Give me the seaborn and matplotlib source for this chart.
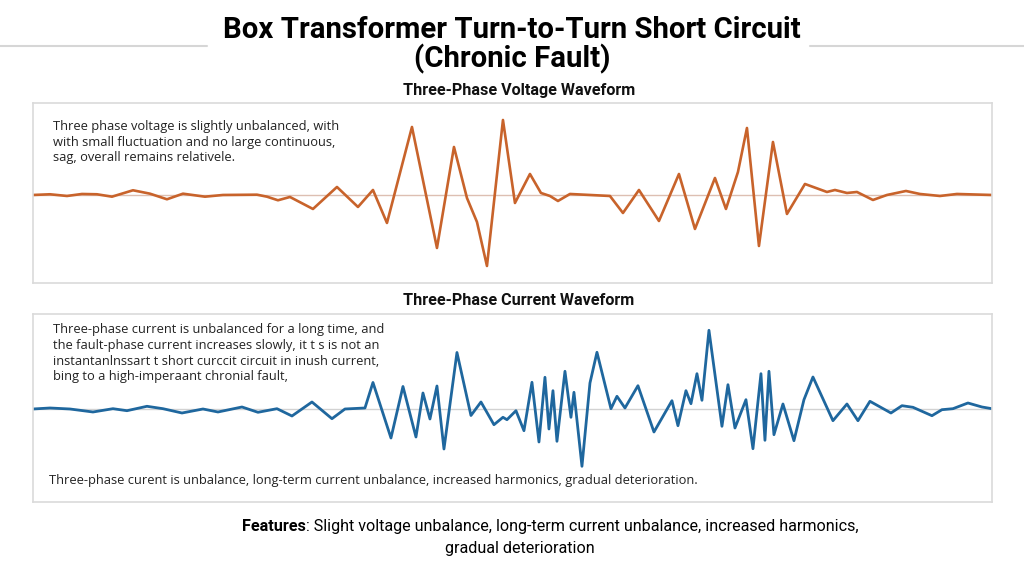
import matplotlib
matplotlib.use("Agg")
import matplotlib.pyplot as plt
from matplotlib.lines import Line2D
import seaborn as sns

# -----------------------------
# Data (time in samples, amplitude in arbitrary units)
# -----------------------------
volt_t = [0, 17, 34, 49, 64, 79, 100, 117, 134, 150, 172, 190, 224, 234, 245, 257,
          280, 304, 325, 340, 354, 379, 404, 421, 434, 444, 454, 470, 482, 497, 508,
          517, 525, 537, 577, 590, 606, 626, 646, 662, 682, 693, 705, 714, 726, 740,
          754, 772, 794, 802, 814, 824, 840, 854, 873, 887, 907, 924, 959]
volt_v = [0, 0.7, -1, 1, 0.7, -1.7, 4.7, 1.3, -4.3, 1.3, -1.7, 0, 0.3, -1.7, -5.3, -2,
          -14, 8, -12, 5, -28, 68, -53, 48, -3, -27, -71, 75, -8, 21, 2,
          -1, -6, 1, -1, -18, 5, -26, 21, -34, 17, -14, 23, 67, -51, 53,
          -19, 11, 3, 5, 2, 3, -5, 0, 4, 1, -1, 1, 0]

curr_t = [0, 17, 37, 60, 80, 94, 114, 130, 149, 170, 185, 209, 225, 244, 259, 279,
          299, 312, 332, 340, 358, 370, 383, 390, 397, 404, 411, 424, 438, 448, 461,
          470, 474, 483, 491, 499, 506, 512, 516, 520, 524, 532, 538, 541, 549, 557,
          564, 578, 584, 592, 605, 621, 639, 645, 653, 658, 664, 669, 676, 689, 695,
          702, 713, 720, 728, 732, 736, 741, 750, 761, 771, 780, 800, 814, 825, 837,
          858, 869, 880, 899, 909, 920, 935, 949, 959]
curr_v = [0, 1, 0, -3, 0.3, -1.7, 2.7, 0.3, -4, 0, -3, 2, -3.3, 0.3, -7, 7,
          -9.7, 0, 1, 26.5, -29, 22.5, -28, 16, -10, 23, -40, 56.5, -6.5, 7, -15.7,
          -8.3, -10.7, -1.7, -21.7, 26.7, -33, 31.7, -20, 18.3, -32.3, 37.7, -8.3, 16.7, -57.3, 26,
          56.7, 0.3, 12.7, 1, 23.3, -23, 8.3, -16.7, 18.3, 5.3, 35.3, 8.7, 78.7, -17.3, 24.3,
          -19, 9.3, -39.7, 35.3, -31.3, 37.7, -25.7, 5, -31.7, 9.3, 32, -11.7, 5, -11.7, 7.7,
          -4, 3.3, 1.7, -6.7, -0.7, 0.3, 6, 2, 0.3]

volt_note = ["Three phase voltage is slightly unbalanced, with",
             "with small fluctuation and no large continuous,",
             "sag, overall remains relativele."]
curr_note = ["Three-phase current is unbalanced for a long time, and",
             "the fault-phase current increases slowly, it t s is not an",
             "instantanlnssart t short curccit circuit in inush current,",
             "bing to a high-imperaant chronial fault,"]
curr_bottom = ("Three-phase curent is unbalance, long-term current unbalance, "
               "increased harmonics, gradual deterioration.")

# -----------------------------
# Style
# -----------------------------
sns.set_theme(style="white")
plt.rcParams["font.family"] = ["Open Sans", "DejaVu Sans"]
narrow = ["Roboto", "DejaVu Sans"]

VOLT_COLOR = "#C8632B"
CURR_COLOR = "#1F679E"
EDGE = "#DADADA"

fig = plt.figure(figsize=(10.24, 5.68), dpi=100)
ax_v = fig.add_axes([0.0322, 0.5018, 0.9365, 0.3169])
ax_c = fig.add_axes([0.0322, 0.1162, 0.9365, 0.3310])

sns.lineplot(x=volt_t, y=volt_v, ax=ax_v, color=VOLT_COLOR, linewidth=1.9, sort=False,
             solid_joinstyle="round", solid_capstyle="round")
ax_v.axhline(0, color="#DDBFB2", linewidth=1, zorder=0)
ax_v.set_xlim(0, 959)
ax_v.set_ylim(-88, 92)

sns.lineplot(x=curr_t, y=curr_v, ax=ax_c, color=CURR_COLOR, linewidth=2.0, sort=False,
             solid_joinstyle="round", solid_capstyle="round")
ax_c.axhline(0, color="#D2D2D2", linewidth=1, zorder=0)
ax_c.set_xlim(0, 959)
ax_c.set_ylim(-93, 95)

for ax in (ax_v, ax_c):
    ax.set_xticks([])
    ax.set_yticks([])
    ax.set_xlabel("")
    ax.set_ylabel("")
    for s in ax.spines.values():
        s.set_color(EDGE)
        s.set_linewidth(1.2)

# notes inside the panels
for i, line in enumerate(volt_note):
    ax_v.text(0.0209, 0.867 - i * 0.086, line, transform=ax_v.transAxes,
              fontsize=9.3, color="#222222", va="center", ha="left")
for i, line in enumerate(curr_note):
    ax_c.text(0.0209, 0.915 - i * 0.083, line, transform=ax_c.transAxes,
              fontsize=9.3, color="#222222", va="center", ha="left")
ax_c.text(0.0167, 0.112, curr_bottom, transform=ax_c.transAxes,
          fontsize=9.3, color="#222222", va="center", ha="left")

# -----------------------------
# Titles
# -----------------------------
fig.text(0.5, 0.947, "Box Transformer Turn-to-Turn Short Circuit", ha="center", va="center",
         fontsize=21.2, fontweight="bold", family=narrow, color="black")
fig.text(0.5, 0.897, "(Chronic Fault)", ha="center", va="center",
         fontsize=21.2, fontweight="bold", family=narrow, color="black")
fig.add_artist(Line2D([0, 0.202], [0.919, 0.919], transform=fig.transFigure,
                      color="#D6D6D6", linewidth=1.5))
fig.add_artist(Line2D([0.791, 1.0], [0.919, 0.919], transform=fig.transFigure,
                      color="#D6D6D6", linewidth=1.5))

fig.text(0.507, 0.8415, "Three-Phase Voltage Waveform", ha="center", va="center",
         fontsize=11.6, fontweight="bold", family=narrow, color="#111111")
fig.text(0.506, 0.4718, "Three-Phase Current Waveform", ha="center", va="center",
         fontsize=11.6, fontweight="bold", family=narrow, color="#111111")

# -----------------------------
# Features footer
# -----------------------------
fig.canvas.draw()
renderer = fig.canvas.get_renderer()
feat_bold = fig.text(0.236, 0.0722, "Features", ha="left", va="center",
                     fontsize=11.65, fontweight="bold", family=narrow, color="black")
bb = feat_bold.get_window_extent(renderer=renderer)
fig.text(bb.x1 / fig.bbox.width, 0.0722,
         ": Slight voltage unbalance, long-term current unbalance, increased harmonics,",
         ha="left", va="center", fontsize=11.65, family=narrow, color="black")
fig.text(0.508, 0.0352, "gradual deterioration", ha="center", va="center",
         fontsize=11.65, family=narrow, color="black")

fig.savefig("out.png", dpi=100)
plt.close(fig)
